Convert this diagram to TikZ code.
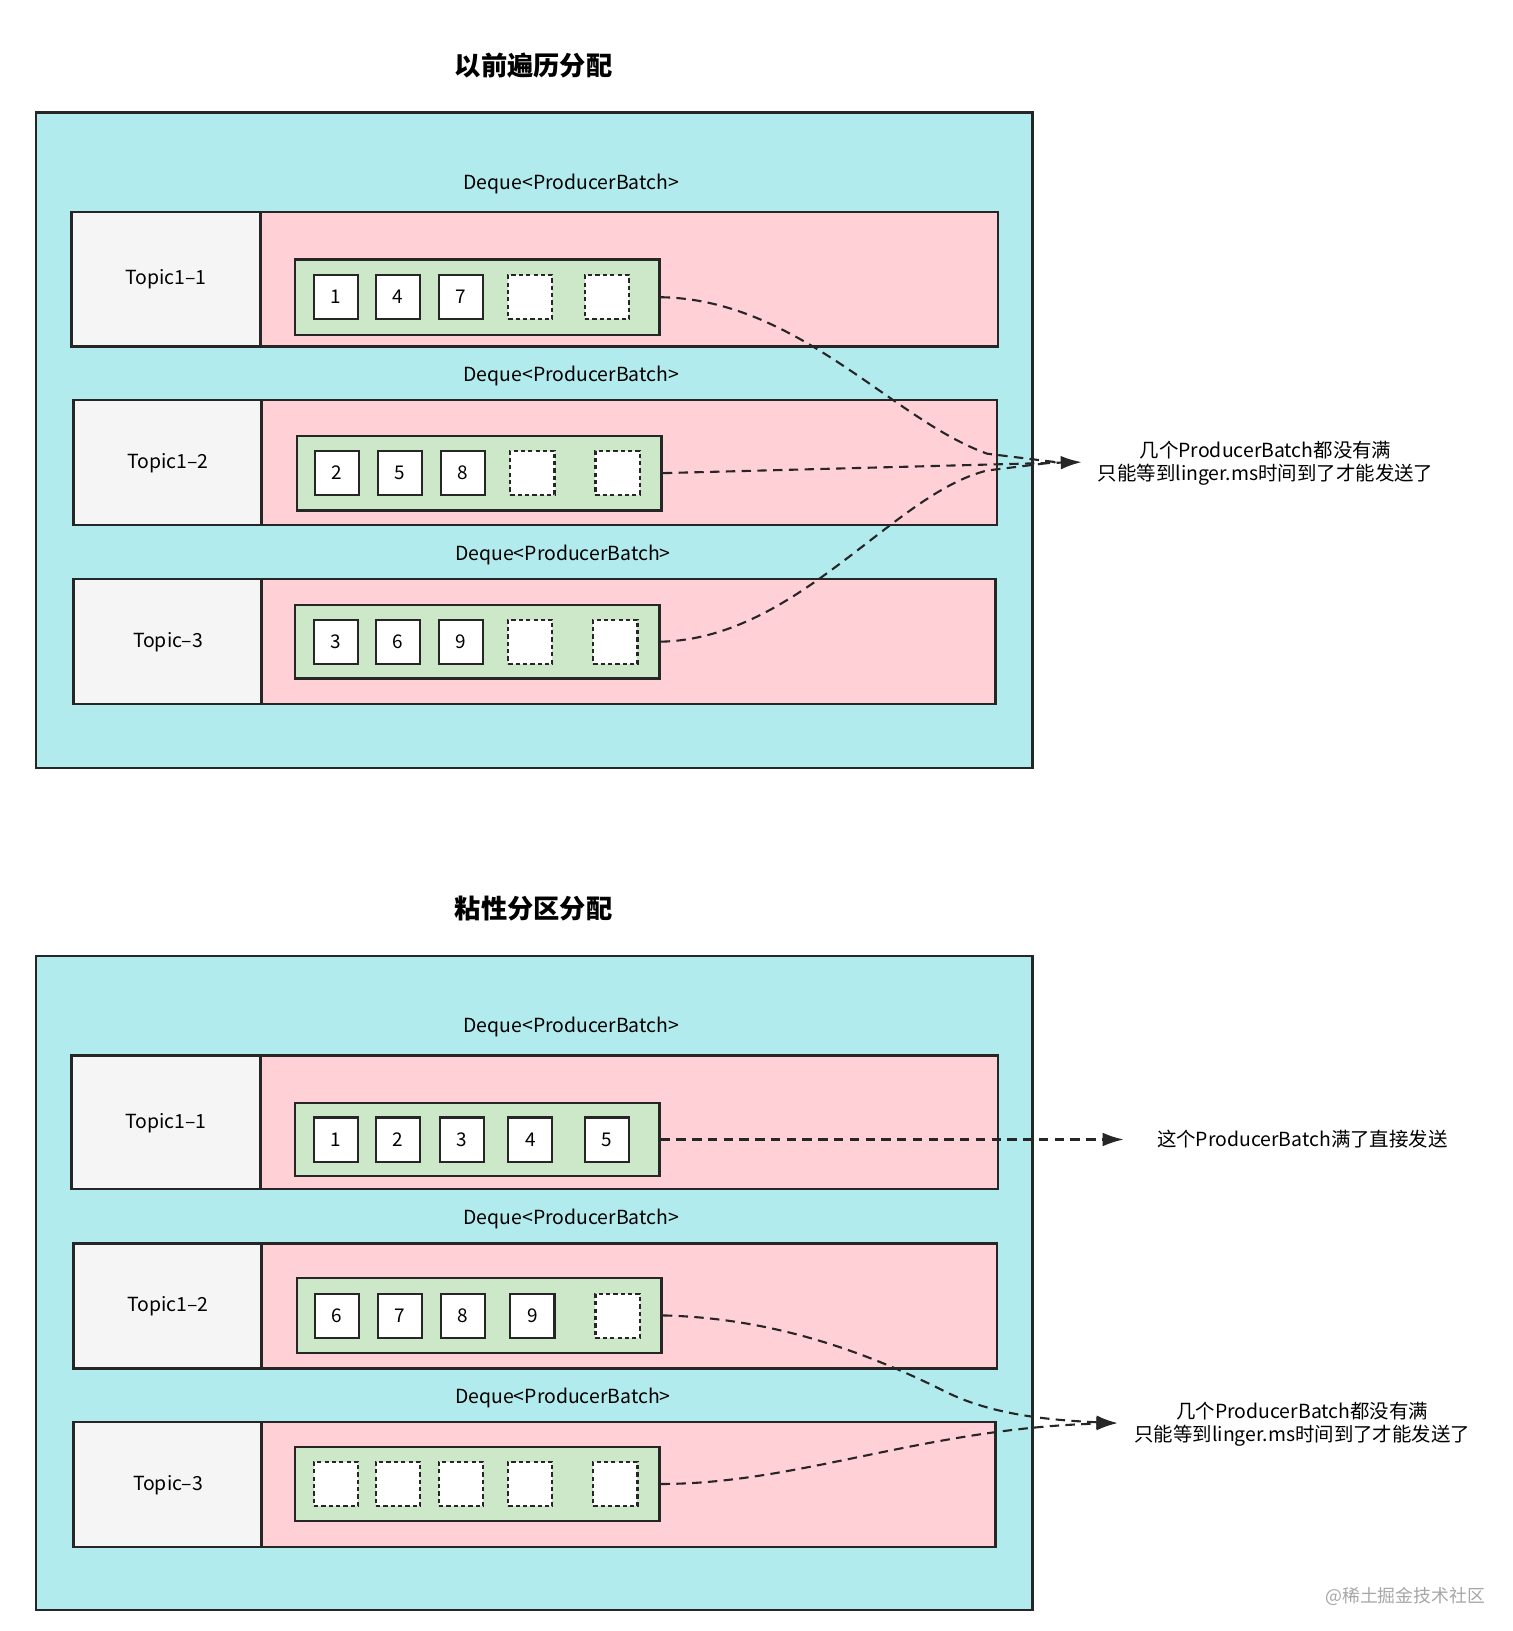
\documentclass[tikz,border=0pt]{standalone}
\usepackage{fontspec}
\setmainfont{Noto Sans CJK SC}
\begin{document}
\begin{tikzpicture}[x=1pt,y=-1pt,
 ln/.style={draw=black!85,line width=2.2pt},
 outer/.style={ln,fill={rgb,255:red,178;green,235;blue,238}},
 topic/.style={ln,fill={rgb,255:red,245;green,245;blue,245}},
 pink/.style={ln,fill={rgb,255:red,255;green,208;blue,214}},
 green/.style={ln,fill={rgb,255:red,204;green,232;blue,201}},
 sq/.style={draw=black!85,line width=2pt,fill=white,minimum size=42pt,inner sep=0pt,font=\fontsize{18}{18}\selectfont},
 dsq/.style={sq,dash pattern=on 4pt off 3pt},
 lab/.style={font=\fontsize{18.5}{22}\selectfont},
 ttl/.style={font=\fontsize{25}{28}\selectfont\bfseries},
 arr/.style={draw=black!85,line width=2pt,dash pattern=on 9pt off 6pt,-{Latex[length=20pt,width=13pt]}},
 arn/.style={draw=black!85,line width=2pt,dash pattern=on 9pt off 6pt}]
\usetikzlibrary{arrows.meta}
\path[use as bounding box] (0,0) rectangle (1440,1553);
% ---------- top ----------
\node[ttl] (t1) at (508,62) {以前遍历分配};
\draw[outer] (34,107) rectangle (983,731);
\node[lab] (d1) at (544,175) {Deque<ProducerBatch>};
\draw[pink] (248,202) rectangle (950,330);
\draw[topic] (68,202) rectangle (248,330);
\node[lab] (tp1) at (158,266) {Topic1–1};
\node[green,minimum width=347pt,minimum height=72pt] (g1) at (454.5,283) {};
\node[sq] (a1) at (320,283) {1}; \node[sq] (a2) at (379,283) {4}; \node[sq] (a3) at (439,283) {7};
\node[dsq] (a4) at (505,283) {}; \node[dsq] (a5) at (578,283) {};
\node[lab] (d2) at (544,358) {Deque<ProducerBatch>};
\draw[pink] (249,381) rectangle (949,500);
\draw[topic] (70,381) rectangle (249,500);
\node[lab] (tp2) at (160,441) {Topic1–2};
\node[green,minimum width=347pt,minimum height=71pt] (g2) at (456.5,450.5) {};
\node[sq] (b1) at (321,450) {2}; \node[sq] (b2) at (381,450) {5}; \node[sq] (b3) at (441,450) {8};
\node[dsq] (b4) at (507,450) {}; \node[dsq] (b5) at (588,450) {};
\node[lab] (d3) at (536,528) {Deque<ProducerBatch>};
\draw[pink] (249,551) rectangle (948,670);
\draw[topic] (70,551) rectangle (249,670);
\node[lab] (tp3) at (160,611) {Topic–3};
\node[green,minimum width=347pt,minimum height=70pt] (g3) at (454.5,611) {};
\node[sq] (c1) at (320,611) {3}; \node[sq] (c2) at (379,611) {6}; \node[sq] (c3) at (439,611) {9};
\node[dsq] (c4) at (505,611) {}; \node[dsq] (c5) at (586,611) {};
\coordinate (e1) at (1030,440);
\draw[arn] (g1.east) .. controls (760,285) and (850,400) .. (940,432) -- (1005,440);
\draw[arn] (g3.east) .. controls (760,608) and (850,470) .. (940,448) -- (1005,440);
\draw[arr] (g2.east) -- (e1);
\node[lab,align=center] (n1) at (1205,441) {几个ProducerBatch都没有满\\只能等到linger.ms时间到了才能发送了};
% ---------- bottom ----------
\node[ttl] (t2) at (508,865) {粘性分区分配};
\draw[outer] (34,910) rectangle (983,1533);
\node[lab] (e1l) at (544,978) {Deque<ProducerBatch>};
\draw[pink] (248,1005) rectangle (950,1132);
\draw[topic] (68,1005) rectangle (248,1132);
\node[lab] (tq1) at (158,1069) {Topic1–1};
\node[green,minimum width=347pt,minimum height=70pt] (h1) at (454.5,1085) {};
\node[sq] (p1) at (320,1085) {1}; \node[sq] (p2) at (379,1085) {2}; \node[sq] (p3) at (440,1085) {3};
\node[sq] (p4) at (505,1085) {4}; \node[sq] (p5) at (578,1085) {5};
\node[lab] (e2l) at (544,1161) {Deque<ProducerBatch>};
\draw[pink] (249,1184) rectangle (949,1303);
\draw[topic] (70,1184) rectangle (249,1303);
\node[lab] (tq2) at (160,1244) {Topic1–2};
\node[green,minimum width=347pt,minimum height=71pt] (h2) at (456.5,1252.5) {};
\node[sq] (q1) at (321,1253) {6}; \node[sq] (q2) at (381,1253) {7}; \node[sq] (q3) at (441,1253) {8};
\node[sq] (q4) at (507,1253) {9}; \node[dsq] (q5) at (588,1253) {};
\node[lab] (e3l) at (536,1331) {Deque<ProducerBatch>};
\draw[pink] (249,1354) rectangle (948,1473);
\draw[topic] (70,1354) rectangle (249,1473);
\node[lab] (tq3) at (160,1414) {Topic–3};
\node[green,minimum width=347pt,minimum height=70pt] (h3) at (454.5,1413) {};
\node[dsq] (r1) at (320,1413) {}; \node[dsq] (r2) at (379,1413) {}; \node[dsq] (r3) at (439,1413) {};
\node[dsq] (r4) at (505,1413) {}; \node[dsq] (r5) at (586,1413) {};
\coordinate (f1) at (1070,1085);
\coordinate (f2) at (1064,1355);
\draw[arr] (h1.east) -- (f1);
\node[lab] (n2) at (1240,1085) {这个ProducerBatch满了直接发送};
\draw[arr] (h2.east) .. controls (740,1255) and (830,1290) .. (900,1325) .. controls (940,1345) and (990,1352) .. (f2);
\draw[arr] (h3.east) .. controls (760,1413) and (880,1360) .. (f2);
\node[lab,align=center] (n3) at (1240,1356) {几个ProducerBatch都没有满\\只能等到linger.ms时间到了才能发送了};
\node[font=\fontsize{17}{17}\selectfont,text=black!35] (wm) at (1338,1520) {@稀土掘金技术社区};
\end{tikzpicture}
\end{document}
